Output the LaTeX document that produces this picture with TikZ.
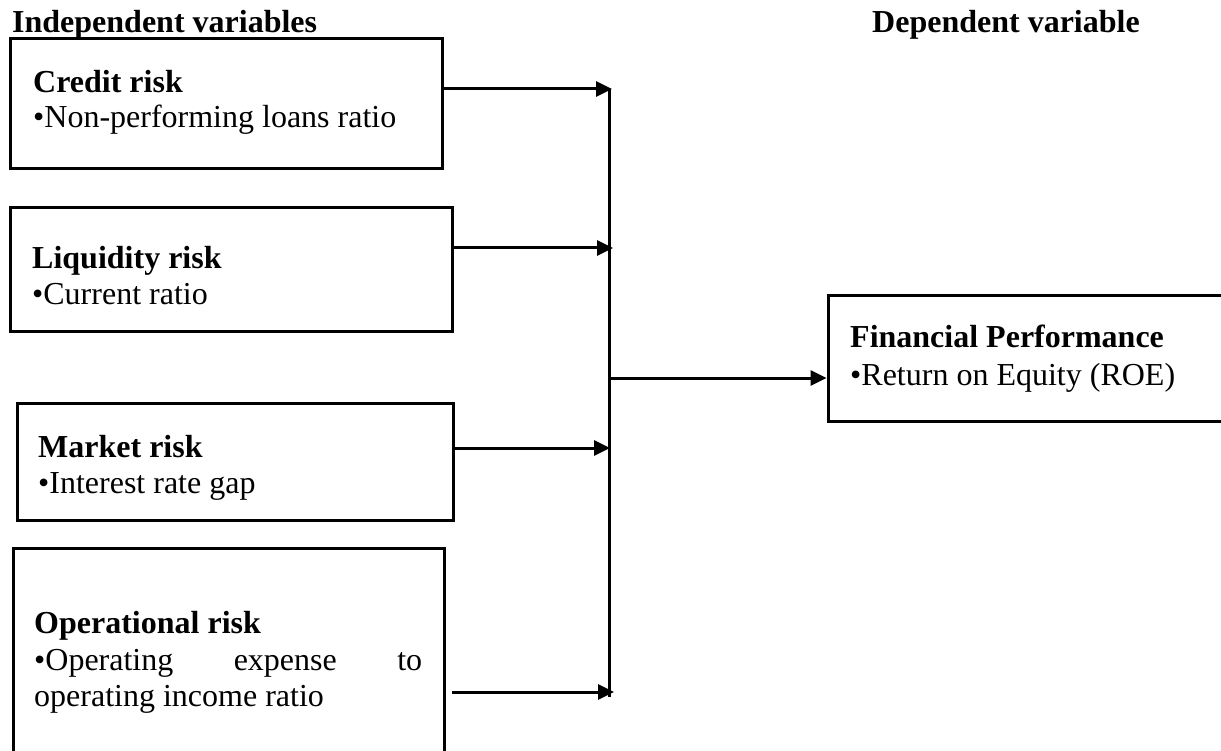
\documentclass[tikz,border=0pt]{standalone}
\usepackage{fontspec}
\setmainfont{Liberation Serif}
\usetikzlibrary{arrows.meta}
\tikzset{
  box/.style={draw, line width=3pt, rectangle, inner sep=0pt},
  txt/.style={anchor=base west, inner sep=0pt, font=\fontsize{32}{38}\selectfont},
  head/.style={txt, font=\fontsize{32}{38}\selectfont\bfseries},
  conn/.style={line width=3pt},
  arr/.style={line width=3pt, -{Triangle[length=16pt,width=15pt]}}
}
\begin{document}
\begin{tikzpicture}[x=1pt,y=-1pt]
\useasboundingbox (0,0) rectangle (1221,751);
% boxes
\node[box, minimum width=432pt, minimum height=130pt] (credit) at (226,104) {};
\node[box, minimum width=442pt, minimum height=124pt] (liquidity) at (231,270) {};
\node[box, minimum width=436pt, minimum height=117pt] (market) at (235,461.5) {};
\node[box, minimum width=431pt, minimum height=212pt] (operational) at (228.5,654) {};
\node[box, minimum width=400pt, minimum height=125pt] (financial) at (1028,358.5) {};
% headers
\node[head] (indep) at (12,33) {Independent variables};
\node[head] (dep) at (872,33) {Dependent variable};
% box texts
\node[head] (t1a) at (33,93) {Credit risk};
\node[txt] (t1b) at (33,128) {•Non-performing loans ratio};
\node[head] (t2a) at (32,269) {Liquidity risk};
\node[txt] (t2b) at (32,305) {•Current ratio};
\node[head] (t3a) at (38,457) {Market risk};
\node[txt] (t3b) at (38,493) {•Interest rate gap};
\node[head] (t4a) at (34,633) {Operational risk};
\node[txt] (t4b) at (34,670) {\makebox[388pt][s]{•Operating expense to}};
\node[txt] (t4c) at (34,706) {operating income ratio};
\node[head] (t5a) at (850,348) {Financial Performance};
\node[txt] (t5b) at (850,385) {•Return on Equity (ROE)};
% junction coordinates
\coordinate (top) at (609,89);
\coordinate (bot) at (609,697);
\coordinate (mid) at (609,378);
\coordinate (e1) at (612,89);
\coordinate (e2) at (613,248);
\coordinate (e3) at (610,448);
\coordinate (e4) at (614,692);
\coordinate (s4) at (452,692);
% connectors
\draw[conn] (top) -- (bot);
\draw[arr] (credit.east |- e1) -- (e1);
\draw[arr] (liquidity.east |- e2) -- (e2);
\draw[arr] (market.east |- e3) -- (e3);
\draw[arr] (s4) -- (e4);
\draw[arr] (mid) -- (financial.west |- mid);
\end{tikzpicture}
\end{document}
